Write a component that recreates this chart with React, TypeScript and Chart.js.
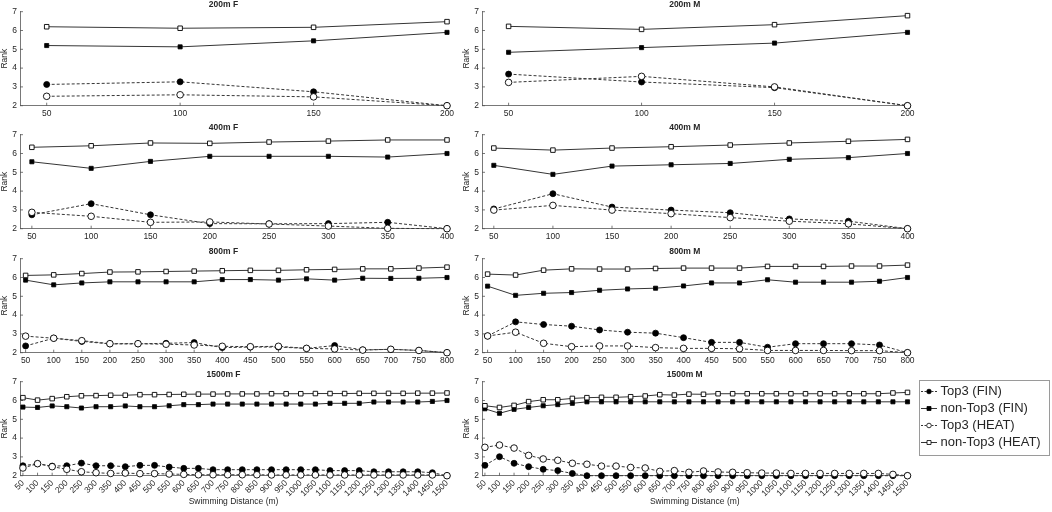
import React, { useEffect, useRef } from "react";
import { Chart, registerables } from "chart.js";

Chart.register(...registerables);

const FONT = '"Liberation Sans", Arial, Helvetica, sans-serif';
const TEXT = "#262626";
const AXIS = "#555555";
const LINE = "#353535";

const SERIES_LABELS = ["Top3 (FIN)", "non-Top3 (FIN)", "Top3 (HEAT)", "non-Top3 (HEAT)"];
const Y_TICKS = [2, 3, 4, 5, 6, 7];
const X_AXIS_TITLE = "Swimming Distance (m)";
const Y_AXIS_TITLE = "Rank";

// ---- x categories (swimming distance, m) ----
const X200 = [50, 100, 150, 200];
const X400 = [50, 100, 150, 200, 250, 300, 350, 400];
const X800 = [50, 100, 150, 200, 250, 300, 350, 400, 450, 500, 550, 600, 650, 700, 750, 800];
const X1500 = [
  50, 100, 150, 200, 250, 300, 350, 400, 450, 500, 550, 600, 650, 700, 750,
  800, 850, 900, 950, 1000, 1050, 1100, 1150, 1200, 1250, 1300, 1350, 1400, 1450, 1500,
];

// ---- 200m F ----
const F200_TOP3_FIN = [3.13, 3.27, 2.74, 2.0];
const F200_NON_FIN = [5.2, 5.13, 5.45, 5.9];
const F200_TOP3_HEAT = [2.5, 2.58, 2.47, 2.0];
const F200_NON_HEAT = [6.2, 6.12, 6.17, 6.47];

// ---- 200m M ----
const M200_TOP3_FIN = [3.68, 3.26, 2.96, 2.0];
const M200_NON_FIN = [4.84, 5.09, 5.33, 5.9];
const M200_TOP3_HEAT = [3.24, 3.56, 3.0, 2.0];
const M200_NON_HEAT = [6.22, 6.06, 6.31, 6.79];

// ---- 400m F ----
const F400_TOP3_FIN = [2.74, 3.33, 2.74, 2.27, 2.26, 2.27, 2.34, 2.0];
const F400_NON_FIN = [5.56, 5.21, 5.58, 5.85, 5.85, 5.85, 5.81, 6.0];
const F400_TOP3_HEAT = [2.87, 2.66, 2.34, 2.36, 2.25, 2.14, 2.02, 2.0];
const F400_NON_HEAT = [6.33, 6.41, 6.56, 6.54, 6.61, 6.66, 6.72, 6.72];

// ---- 400m M ----
const M400_TOP3_FIN = [3.05, 3.86, 3.15, 2.99, 2.85, 2.52, 2.4, 2.0];
const M400_NON_FIN = [5.37, 4.89, 5.33, 5.4, 5.47, 5.69, 5.78, 6.0];
const M400_TOP3_HEAT = [2.99, 3.24, 2.99, 2.8, 2.59, 2.4, 2.26, 2.0];
const M400_NON_HEAT = [6.29, 6.18, 6.29, 6.36, 6.45, 6.56, 6.65, 6.75];

// ---- 800m F ----
const F800_TOP3_FIN = [2.36, 2.77, 2.6, 2.47, 2.47, 2.5, 2.54, 2.27, 2.3, 2.3, 2.23, 2.38, 2.15, 2.18, 2.12, 2.0];
const F800_NON_FIN = [5.86, 5.61, 5.71, 5.77, 5.77, 5.77, 5.77, 5.89, 5.89, 5.86, 5.93, 5.86, 5.96, 5.95, 5.96, 6.0];
const F800_TOP3_HEAT = [2.88, 2.77, 2.64, 2.48, 2.48, 2.45, 2.41, 2.34, 2.32, 2.34, 2.23, 2.2, 2.14, 2.18, 2.12, 2.0];
const F800_NON_HEAT = [6.11, 6.14, 6.21, 6.29, 6.3, 6.32, 6.34, 6.36, 6.38, 6.38, 6.41, 6.43, 6.46, 6.46, 6.5, 6.55];

// ---- 800m M ----
const M800_TOP3_FIN = [2.89, 3.64, 3.5, 3.41, 3.21, 3.09, 3.04, 2.8, 2.55, 2.55, 2.29, 2.48, 2.48, 2.48, 2.41, 2.0];
const M800_NON_FIN = [5.54, 5.05, 5.16, 5.2, 5.32, 5.39, 5.43, 5.55, 5.71, 5.71, 5.88, 5.75, 5.75, 5.75, 5.8, 6.0];
const M800_TOP3_HEAT = [2.89, 3.09, 2.5, 2.32, 2.36, 2.36, 2.27, 2.23, 2.23, 2.21, 2.12, 2.12, 2.12, 2.11, 2.11, 2.0];
const M800_NON_HEAT = [6.18, 6.13, 6.39, 6.46, 6.45, 6.45, 6.48, 6.5, 6.5, 6.5, 6.59, 6.59, 6.59, 6.61, 6.61, 6.66];

// ---- 1500m F ----
const F1500_TOP3_FIN = [
  2.53, 2.64, 2.51, 2.53, 2.67, 2.53, 2.53, 2.48, 2.55, 2.55, 2.46, 2.39, 2.39, 2.32, 2.32,
  2.32, 2.32, 2.32, 2.32, 2.32, 2.32, 2.27, 2.27, 2.27, 2.21, 2.21, 2.21, 2.21, 2.16, 2.0,
];
const F1500_NON_FIN = [
  5.65, 5.63, 5.71, 5.67, 5.6, 5.67, 5.67, 5.71, 5.67, 5.67, 5.72, 5.78, 5.78, 5.81, 5.81,
  5.81, 5.81, 5.81, 5.81, 5.81, 5.81, 5.85, 5.85, 5.85, 5.92, 5.92, 5.92, 5.92, 5.95, 6.0,
];
const F1500_TOP3_HEAT = [
  2.41, 2.64, 2.48, 2.34, 2.21, 2.16, 2.12, 2.14, 2.11, 2.11, 2.09, 2.07, 2.05, 2.05, 2.05,
  2.05, 2.05, 2.04, 2.04, 2.04, 2.04, 2.04, 2.04, 2.04, 2.04, 2.04, 2.04, 2.04, 2.04, 2.0,
];
const F1500_NON_HEAT = [
  6.15, 6.02, 6.1, 6.2, 6.25, 6.26, 6.28, 6.28, 6.31, 6.31, 6.32, 6.33, 6.34, 6.34, 6.35,
  6.35, 6.35, 6.36, 6.36, 6.36, 6.37, 6.37, 6.37, 6.38, 6.38, 6.38, 6.38, 6.39, 6.39, 6.4,
];

// ---- 1500m M ----
const M1500_TOP3_FIN = [
  2.55, 3.01, 2.66, 2.48, 2.34, 2.27, 2.12, 2.0, 2.0, 2.0, 2.0, 2.0, 2.0, 2.0, 2.0,
  2.0, 2.0, 2.0, 2.0, 2.0, 2.0, 2.0, 2.0, 2.0, 2.0, 2.0, 2.0, 2.0, 2.0, 2.0,
];
const M1500_NON_FIN = [
  5.56, 5.32, 5.53, 5.63, 5.72, 5.78, 5.85, 5.93, 5.93, 5.93, 5.93, 5.93, 5.93, 5.93, 5.93,
  5.93, 5.93, 5.93, 5.93, 5.93, 5.93, 5.93, 5.93, 5.93, 5.93, 5.93, 5.93, 5.93, 5.93, 5.93,
];
const M1500_TOP3_HEAT = [
  3.51, 3.63, 3.47, 3.08, 2.89, 2.82, 2.66, 2.61, 2.51, 2.51, 2.44, 2.41, 2.23, 2.27, 2.18,
  2.25, 2.2, 2.18, 2.16, 2.14, 2.14, 2.12, 2.12, 2.12, 2.12, 2.12, 2.12, 2.12, 2.07, 2.0,
];
const M1500_NON_HEAT = [
  5.72, 5.63, 5.74, 5.94, 6.04, 6.04, 6.11, 6.15, 6.17, 6.17, 6.2, 6.24, 6.31, 6.29, 6.34,
  6.33, 6.36, 6.36, 6.36, 6.36, 6.36, 6.36, 6.36, 6.36, 6.36, 6.36, 6.36, 6.36, 6.4, 6.43,
];

// ---- layout ----
const COL_LEFT = [0, 462];
const COL_W = [465, 463];
const COL_RIGHT_PAD = [18, 17.5];
const ROW_TOP = [0, 123, 247, 370];
const ROW_H = [120, 120, 120, 137];
const TITLE_BLOCK = 11.7;
const PLOT_H = 94;

type PanelCfg = {
  title: string;
  xs: number[];
  series: number[][];
  col: number;
  row: number;
};

const PANELS: PanelCfg[] = [
  { title: "200m F", xs: X200, series: [F200_TOP3_FIN, F200_NON_FIN, F200_TOP3_HEAT, F200_NON_HEAT], col: 0, row: 0 },
  { title: "200m M", xs: X200, series: [M200_TOP3_FIN, M200_NON_FIN, M200_TOP3_HEAT, M200_NON_HEAT], col: 1, row: 0 },
  { title: "400m F", xs: X400, series: [F400_TOP3_FIN, F400_NON_FIN, F400_TOP3_HEAT, F400_NON_HEAT], col: 0, row: 1 },
  { title: "400m M", xs: X400, series: [M400_TOP3_FIN, M400_NON_FIN, M400_TOP3_HEAT, M400_NON_HEAT], col: 1, row: 1 },
  { title: "800m F", xs: X800, series: [F800_TOP3_FIN, F800_NON_FIN, F800_TOP3_HEAT, F800_NON_HEAT], col: 0, row: 2 },
  { title: "800m M", xs: X800, series: [M800_TOP3_FIN, M800_NON_FIN, M800_TOP3_HEAT, M800_NON_HEAT], col: 1, row: 2 },
  { title: "1500m F", xs: X1500, series: [F1500_TOP3_FIN, F1500_NON_FIN, F1500_TOP3_HEAT, F1500_NON_HEAT], col: 0, row: 3 },
  { title: "1500m M", xs: X1500, series: [M1500_TOP3_FIN, M1500_NON_FIN, M1500_TOP3_HEAT, M1500_NON_HEAT], col: 1, row: 3 },
];

const SERIES_STYLE = [
  { dash: [3, 2], pointStyle: "circle", radius: 3, fill: "#000000", bw: 0.8, order: 4 },
  { dash: [], pointStyle: "rect", radius: 2.9, fill: "#000000", bw: 0.8, order: 3 },
  { dash: [3, 2], pointStyle: "circle", radius: 3.3, fill: "#ffffff", bw: 0.9, order: 2 },
  { dash: [], pointStyle: "rect", radius: 3.2, fill: "#ffffff", bw: 0.9, order: 1 },
];

const inwardTicks = {
  id: "inwardTicks",
  beforeDatasetsDraw(chart: any) {
    const { ctx, chartArea, scales } = chart;
    ctx.save();
    ctx.strokeStyle = AXIS;
    ctx.lineWidth = 0.8;
    ctx.beginPath();
    for (const t of scales.x.ticks) {
      const px = scales.x.getPixelForValue(t.value);
      ctx.moveTo(px, chartArea.bottom);
      ctx.lineTo(px, chartArea.bottom - 3);
    }
    for (const t of scales.y.ticks) {
      const py = scales.y.getPixelForValue(t.value);
      ctx.moveTo(chartArea.left, py);
      ctx.lineTo(chartArea.left + 3, py);
    }
    ctx.stroke();
    ctx.restore();
  },
};

function buildConfig(p: PanelCfg): any {
  const isBottom = p.row === 3;
  const xh = ROW_H[p.row] - TITLE_BLOCK - PLOT_H;
  const rot = isBottom ? 45 : 0;
  const tickFont = { family: FONT, size: 8.5 };
  return {
    type: "line",
    data: {
      datasets: p.series.map((vals, i) => {
        const s = SERIES_STYLE[i];
        return {
          label: SERIES_LABELS[i],
          data: p.xs.map((x, j) => ({ x, y: vals[j] })),
          borderColor: LINE,
          borderWidth: 1,
          borderDash: s.dash,
          pointStyle: s.pointStyle,
          pointRadius: s.radius,
          pointBackgroundColor: s.fill,
          pointBorderColor: "#000000",
          pointBorderWidth: s.bw,
          order: s.order,
          clip: false,
          tension: 0,
        };
      }),
    },
    options: {
      animation: false,
      responsive: false,
      events: [],
      layout: { padding: { left: 0, right: COL_RIGHT_PAD[p.col], top: 0, bottom: 0 } },
      plugins: {
        legend: { display: false },
        tooltip: { enabled: false },
        title: {
          display: true,
          text: p.title,
          color: TEXT,
          font: { family: FONT, size: 8.5, weight: "bold" },
          padding: { top: 0, bottom: 1.5 },
        },
      },
      scales: {
        x: {
          type: "linear",
          min: 40,
          max: p.xs[p.xs.length - 1],
          afterBuildTicks: (s: any) => {
            s.ticks = p.xs.map((v) => ({ value: v }));
          },
          afterFit: (s: any) => {
            s.height = xh;
          },
          ticks: {
            autoSkip: false,
            maxRotation: rot,
            minRotation: rot,
            padding: 2.5,
            color: TEXT,
            font: tickFont,
            callback: (v: any) => String(v),
          },
          grid: { display: false, drawTicks: false },
          border: { display: true, color: AXIS, width: 0.8 },
          title: {
            display: isBottom,
            text: X_AXIS_TITLE,
            color: TEXT,
            font: tickFont,
            padding: 0,
          },
        },
        y: {
          type: "linear",
          min: 2,
          max: 7,
          afterBuildTicks: (s: any) => {
            s.ticks = Y_TICKS.map((v) => ({ value: v }));
          },
          afterFit: (s: any) => {
            s.width = 20;
          },
          ticks: { padding: 3, color: TEXT, font: tickFont },
          grid: { display: false, drawTicks: false },
          border: { display: true, color: AXIS, width: 0.8 },
          title: {
            display: true,
            text: Y_AXIS_TITLE,
            color: TEXT,
            font: tickFont,
            padding: 0,
          },
        },
      },
    },
    plugins: [inwardTicks],
  };
}

function Panel({ p }: { p: PanelCfg }) {
  const ref = useRef<HTMLCanvasElement>(null);
  useEffect(() => {
    const chart = new Chart(ref.current as HTMLCanvasElement, buildConfig(p));
    return () => chart.destroy();
  }, []);
  return (
    <canvas
      ref={ref}
      width={COL_W[p.col]}
      height={ROW_H[p.row]}
      style={{ position: "absolute", left: COL_LEFT[p.col], top: ROW_TOP[p.row] }}
    />
  );
}

function makeIcon(i: number): HTMLCanvasElement {
  const c = document.createElement("canvas");
  c.width = 16;
  c.height = 9;
  const ctx = c.getContext("2d") as CanvasRenderingContext2D;
  const s = SERIES_STYLE[i];
  ctx.strokeStyle = LINE;
  ctx.lineWidth = 1;
  ctx.setLineDash(s.dash.length ? [2, 1.5] : []);
  ctx.beginPath();
  ctx.moveTo(0, 4.5);
  ctx.lineTo(16, 4.5);
  ctx.stroke();
  ctx.setLineDash([]);
  ctx.fillStyle = s.fill;
  ctx.strokeStyle = "#000000";
  ctx.lineWidth = 0.8;
  ctx.beginPath();
  if (s.pointStyle === "circle") {
    ctx.arc(8, 4.5, 2.3, 0, Math.PI * 2);
  } else {
    ctx.rect(6, 2.5, 4, 4);
  }
  ctx.fill();
  ctx.stroke();
  return c;
}

function Legend() {
  const ref = useRef<HTMLCanvasElement>(null);
  useEffect(() => {
    const icons = SERIES_LABELS.map((_, i) => makeIcon(i));
    const chart = new Chart(ref.current as HTMLCanvasElement, {
      type: "line",
      data: { datasets: SERIES_LABELS.map((l) => ({ label: l, data: [] })) },
      options: {
        animation: false,
        responsive: false,
        events: [],
        layout: { padding: 0 },
        scales: { x: { display: false }, y: { display: false } },
        plugins: {
          tooltip: { enabled: false },
          title: { display: false },
          legend: {
            display: true,
            position: "top",
            align: "start",
            maxHeight: 80,
            labels: {
              usePointStyle: true,
              pointStyleWidth: 10,
              boxHeight: 13,
              padding: 4,
              color: TEXT,
              font: { family: FONT, size: 13 },
              generateLabels: () =>
                SERIES_LABELS.map((text, i) => ({
                  text,
                  pointStyle: icons[i],
                  fillStyle: "transparent",
                  strokeStyle: "transparent",
                  lineWidth: 0,
                  hidden: false,
                  datasetIndex: i,
                  fontColor: TEXT,
                })),
            },
          },
        },
      } as any,
    } as any);
    return () => chart.destroy();
  }, []);
  return (
    <div
      style={{
        position: "absolute",
        left: 919,
        top: 380,
        width: 131,
        height: 76,
        boxSizing: "border-box",
        border: "1px solid #9a9a9a",
        background: "#ffffff",
      }}
    >
      <canvas ref={ref} width={129} height={74} style={{ position: "absolute", left: 0, top: 0 }} />
    </div>
  );
}

export default function App() {
  return (
    <div
      style={{
        position: "absolute",
        left: 0,
        top: 0,
        width: 1052,
        height: 512,
        background: "#ffffff",
        overflow: "hidden",
      }}
    >
      {PANELS.map((p) => (
        <Panel key={p.title} p={p} />
      ))}
      <Legend />
    </div>
  );
}
